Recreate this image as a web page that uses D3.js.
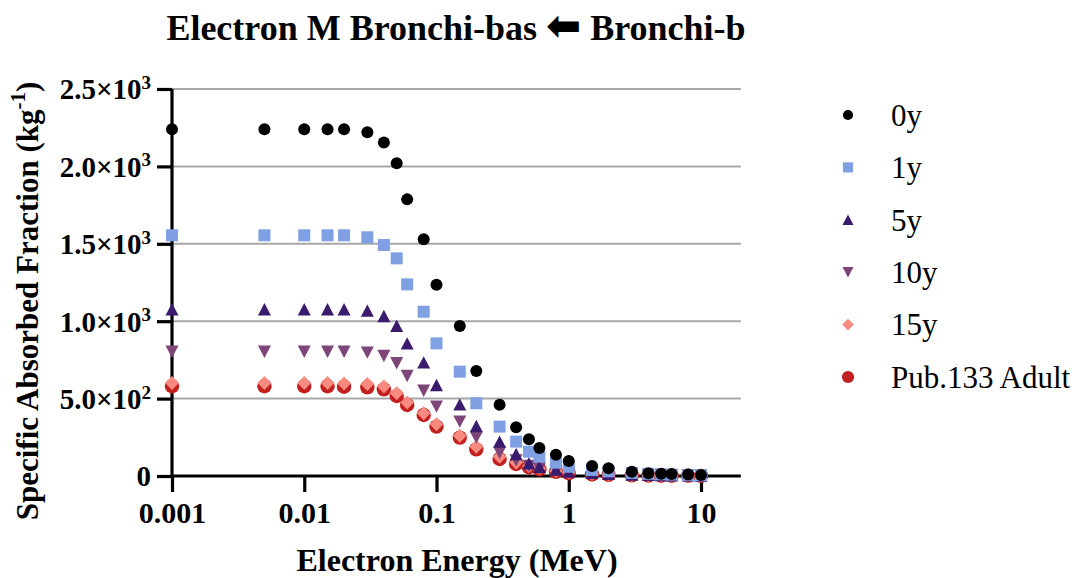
<!DOCTYPE html>
<html>
<head>
<meta charset="utf-8">
<script src="https://cdn.jsdelivr.net/npm/d3@7"></script>
<style>
  html, body { margin: 0; padding: 0; background: #fff; }
  svg { display: block; }
  text { font-family: "Liberation Serif", "Times New Roman", serif; fill: #000; }
</style>
</head>
<body>
<svg id="chart" width="1079" height="578"></svg>
<script>
// Electron energies (MeV)
const energies = [0.001, 0.005, 0.01, 0.015, 0.02, 0.03, 0.04, 0.05, 0.06, 0.08, 0.1, 0.15, 0.2,
  0.3, 0.4, 0.5, 0.6, 0.8, 1, 1.5, 2, 3, 4, 5, 6, 8, 10];

// Specific absorbed fraction (kg^-1) per phantom age
const saf0y  = [2240, 2240, 2240, 2240, 2240, 2220, 2155, 2020, 1787, 1529, 1236, 969, 678,
  461, 315, 237, 181, 138, 97, 65, 50, 28, 18, 15, 13, 10, 7];
const saf1y  = [1555, 1555, 1555, 1555, 1555, 1542, 1492, 1406, 1238, 1061, 857, 674, 470,
  319, 222, 157, 125, 86, 60, 39, 30, 20, 14, 11, 9, 7, 5];
const saf5y  = [1077, 1077, 1077, 1077, 1077, 1068, 1034, 971, 857, 734, 588, 463, 323,
  222, 142, 82, 60, 42, 29, 20, 14, 9, 7, 6, 5, 4, 3];
const saf10y = [803, 803, 803, 803, 803, 797, 775, 728, 646, 551, 448, 351, 248,
  150, 100, 65, 48, 32, 22, 15, 11, 7, 5, 4, 4, 3, 2];
const saf15y = [600, 600, 600, 600, 598, 595, 578, 534, 474, 405, 334, 260, 189,
  124, 88, 65, 50, 32, 22, 13, 9, 5, 4, 3, 3, 2, 1.5];
const safAdult = [580, 580, 580, 580, 577, 573, 560, 517, 459, 394, 319, 248, 172,
  110, 78, 57, 43, 27, 18, 10, 7, 4, 3, 2, 2, 1.5, 1];

const seriesNames = ["0y", "1y", "5y", "10y", "15y", "Pub.133 Adult"];
const seriesValues = [saf0y, saf1y, saf5y, saf10y, saf15y, safAdult];
const seriesColors = ["#000000", "#7fa0e3", "#3b1b6d", "#7e4678", "#f98a80", "#c1201e"];
const seriesShapes = ["circle", "square", "triUp", "triDown", "diamond", "bigCircle"];

const xTicks = [0.001, 0.01, 0.1, 1, 10];
const xTickLabels = ["0.001", "0.01", "0.1", "1", "10"];
const yTicks = [0, 500, 1000, 1500, 2000, 2500];
const yTickMantissa = ["0", "5.0", "1.0", "1.5", "2.0", "2.5"];
const yTickExponent = [null, "2", "3", "3", "3", "3"];

const svg = d3.select("#chart");

const x = d3.scaleLog().domain([0.001, 20]).range([172, 172 + 132.25 * Math.log10(20000)]);
const y = d3.scaleLinear().domain([0, 2500]).range([476, 89]);

// marker path centred on its bounding box
function shapePath(shape, s) {
  switch (shape) {
    case "circle": { const r = 6 * s; return `M${-r},0a${r},${r} 0 1,0 ${2*r},0a${r},${r} 0 1,0 ${-2*r},0Z`; }
    case "bigCircle": { const r = 7.2 * s; return `M${-r},0a${r},${r} 0 1,0 ${2*r},0a${r},${r} 0 1,0 ${-2*r},0Z`; }
    case "square": { const h = 6 * s; return `M${-h},${-h}H${h}V${h}H${-h}Z`; }
    case "triUp": { const w = 6.5 * s, h = 6.2 * s; return `M0,${-h}L${w},${h}L${-w},${h}Z`; }
    case "triDown": { const w = 6.5 * s, h = 6.2 * s; return `M0,${h}L${w},${-h}L${-w},${-h}Z`; }
    case "diamond": { const w = 6.8 * s, h = 7 * s; return `M0,${-h}L${w},0L0,${h}L${-w},0Z`; }
  }
}

// gridlines
svg.append("g")
  .selectAll("line")
  .data(yTicks.filter(d => d > 0))
  .join("line")
  .attr("x1", x(0.001)).attr("x2", x.range()[1])
  .attr("y1", d => y(d)).attr("y2", d => y(d))
  .attr("stroke", "#a7a7a7").attr("stroke-width", 2);

// y axis
const yAxis = svg.append("g")
  .attr("transform", `translate(${x(0.001)},0)`)
  .call(d3.axisLeft(y).tickValues(yTicks).tickSize(15).tickPadding(6).tickFormat(() => ""));
yAxis.select(".domain").attr("stroke", "#000").attr("stroke-width", 3.2).attr("d", `M0,${y(2500)}V${y(0)}`);
yAxis.selectAll(".tick line").attr("stroke", "#000").attr("stroke-width", 3.2);
yAxis.selectAll(".tick text").each(function(d, i) {
  const t = d3.select(this)
    .attr("font-family", "Liberation Serif").attr("font-weight", "bold")
    .attr("font-size", 29).attr("fill", "#000").attr("dy", "0.34em");
  t.text(null);
  t.append("tspan").text(yTickMantissa[i] + (yTickExponent[i] ? "×10" : ""));
  if (yTickExponent[i]) {
    t.append("tspan").attr("font-size", 19).attr("dy", "-0.55em").text(yTickExponent[i]);
  }
});

// x axis
const xAxis = svg.append("g")
  .attr("transform", `translate(0,${y(0)})`)
  .call(d3.axisBottom(x).tickValues(xTicks).tickSize(16).tickPadding(10)
    .tickFormat((d, i) => xTickLabels[i]));
xAxis.select(".domain").attr("stroke", "#000").attr("stroke-width", 3.2)
  .attr("d", `M${x.range()[0]},0H${x.range()[1]}`);
xAxis.selectAll(".tick line").attr("stroke", "#000").attr("stroke-width", 3.2);
xAxis.selectAll(".tick text")
  .attr("font-family", "Liberation Serif").attr("font-weight", "bold")
  .attr("font-size", 30).attr("fill", "#000");

// data points; the first series sits on top
const plot = svg.append("g");
for (let k = seriesValues.length - 1; k >= 0; k--) {
  plot.append("g")
    .selectAll("path")
    .data(energies.map((e, i) => [e, seriesValues[k][i]]))
    .join("path")
    .attr("transform", d => `translate(${x(d[0])},${y(d[1])})`)
    .attr("d", shapePath(seriesShapes[k], 1))
    .attr("fill", seriesColors[k]);
}

// legend
const legend = svg.append("g");
seriesNames.forEach((name, k) => {
  const cy = 115 + k * 52.4;
  legend.append("path")
    .attr("transform", `translate(848,${cy})`)
    .attr("d", shapePath(seriesShapes[k], 0.85))
    .attr("fill", seriesColors[k]);
  legend.append("text")
    .attr("x", 891).attr("y", cy).attr("dy", "0.35em")
    .attr("font-size", 31)
    .text(name);
});

// title
const title = svg.append("text")
  .attr("x", 456).attr("y", 40)
  .attr("text-anchor", "middle")
  .attr("font-weight", "bold").attr("font-size", 36);
title.append("tspan").text("Electron M Bronchi-bas ");
title.append("tspan").attr("font-family", "DejaVu Sans").attr("font-size", 42).text("⬅");
title.append("tspan").text(" Bronchi-b");

// axis titles
svg.append("text")
  .attr("x", 457).attr("y", 571)
  .attr("text-anchor", "middle")
  .attr("font-weight", "bold").attr("font-size", 32)
  .text("Electron Energy (MeV)");

const yTitle = svg.append("text")
  .attr("transform", "translate(38,301) rotate(-90)")
  .attr("text-anchor", "middle")
  .attr("font-weight", "bold").attr("font-size", 31);
yTitle.append("tspan").text("Specific Absorbed Fraction (kg");
yTitle.append("tspan").attr("font-size", 21).attr("dy", "-0.6em").text("-1");
yTitle.append("tspan").attr("dy", "0.4em").text(")");
</script>
</body>
</html>
